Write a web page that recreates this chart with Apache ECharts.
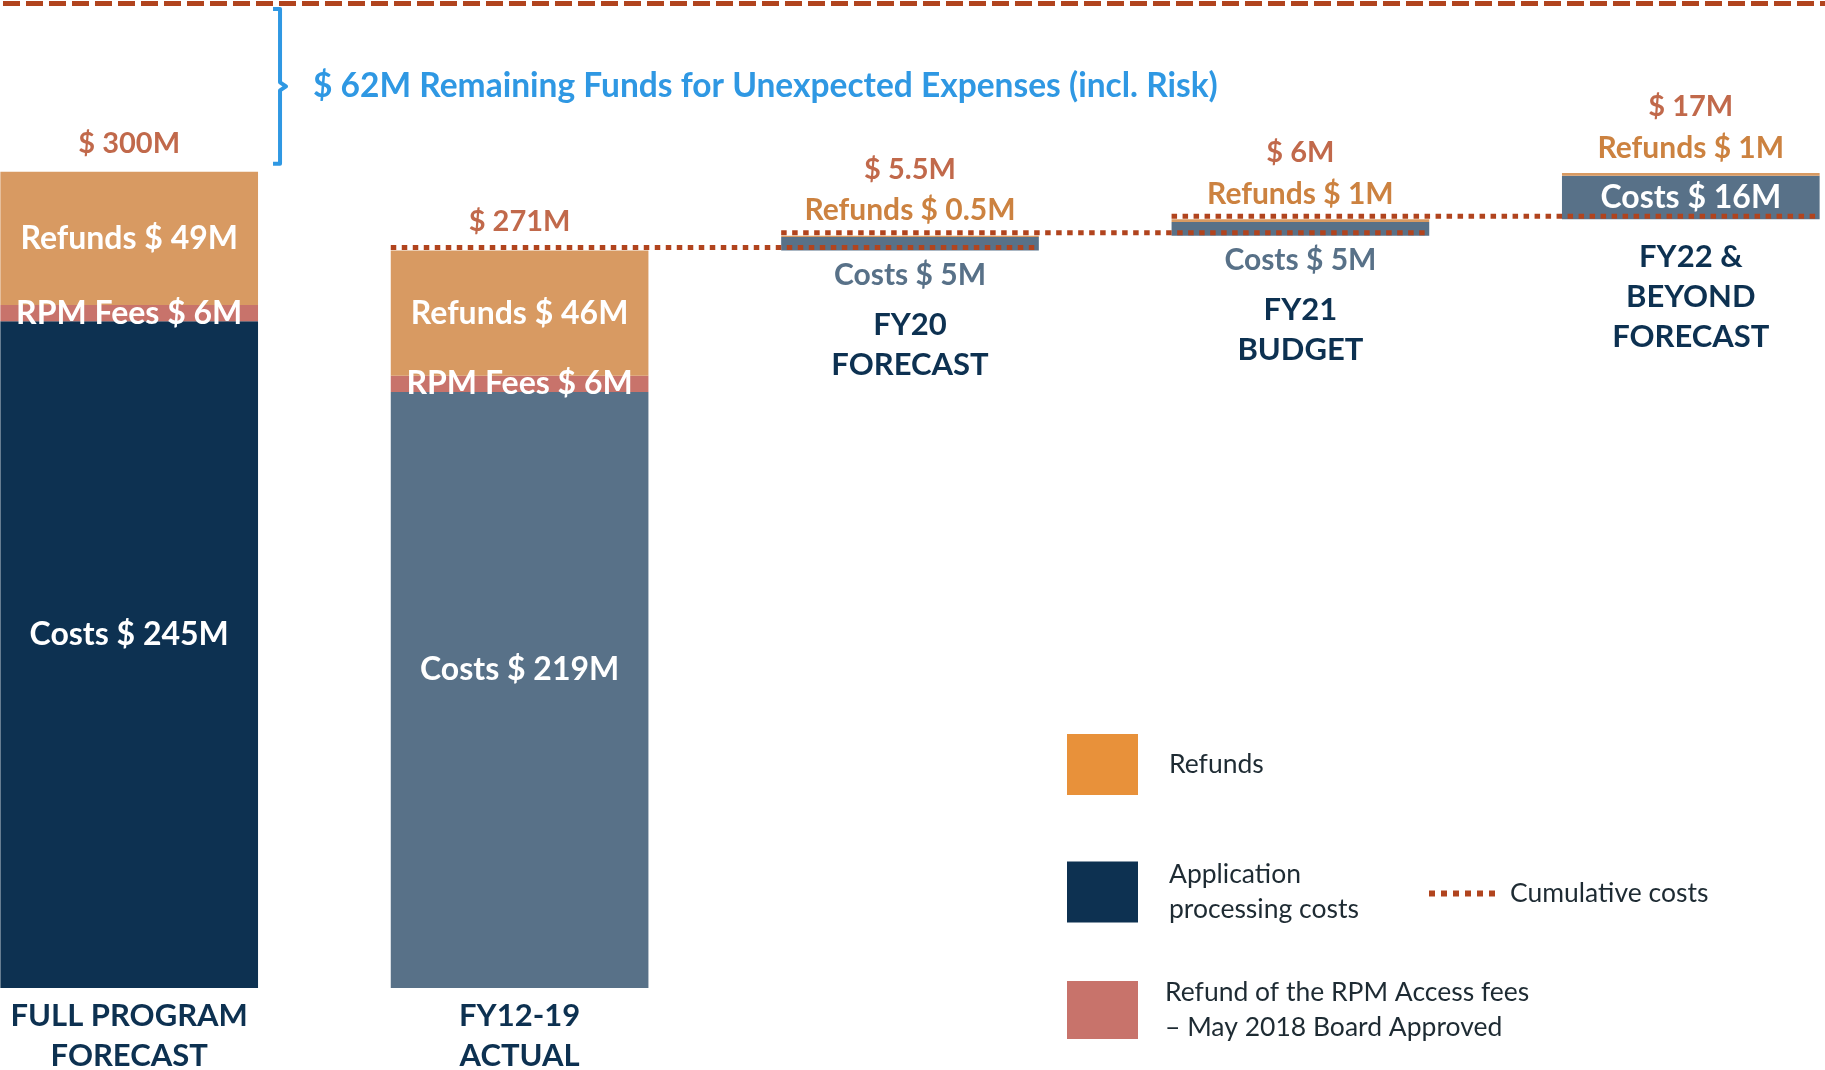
<!DOCTYPE html>
<html>
<head>
<meta charset="utf-8">
<script src="https://cdn.jsdelivr.net/npm/echarts@6/dist/echarts.min.js"></script>
<style>
  html, body { margin: 0; padding: 0; background: #ffffff; overflow: hidden; width: 1825px; height: 1070px; position: relative; }
  /* the outer bars touch the page edges, so the chart canvas is a little wider than the page */
  #chart { position: absolute; left: -66px; top: 0; width: 1952px; height: 1070px; }
</style>
</head>
<body>
<div id="chart"></div>
<script>
// ---------------- data ($ millions) ----------------
const categories = ['FULL PROGRAM\nFORECAST', 'FY12-19\nACTUAL', 'FY20\nFORECAST', 'FY21\nBUDGET', 'FY22 &\nBEYOND\nFORECAST'];
const costs   = [245, 219, 5, 5, 16];
const rpmFees = [6, 6, 0, 0, 0];
const refunds = [49, 46, 0.5, 1, 1];
const totals  = [300, 271, 5.5, 6, 17];
const remainingFunds = 62;

// ---------------- styling ----------------
const RUST = '#B1441E', BLUE = '#2F98E3', NAVY = '#0D3151', SLATE = '#587188';
const REFUND = '#D89A62', REFUND_KEY = '#E8913A', RPM = '#C8736B', INK = '#1E2B33';
const FONT = 'Lato, "Noto Sans", sans-serif';
const BAR_FRAC = 0.66;
const SHIFT = 66; // chart canvas starts 66px left of the page

// waterfall: full-program forecast stands alone, the rest accumulate
const base = [];
let running = 0;
categories.forEach((c, i) => {
  const sum = costs[i] + rpmFees[i] + refunds[i];
  if (i === 0) { base.push(0); return; }
  base.push(running);
  running += sum;
});
const tops = categories.map((c, i) => base[i] + costs[i] + rpmFees[i] + refunds[i]);
const cumulative = [];
for (let i = 1; i < categories.length - 1; i++) cumulative.push([i, base[i + 1]]);

const insideLbl = { show: true, position: 'inside', color: '#ffffff', fontSize: 32, fontWeight: 'bold', fontFamily: FONT };
const FIT = 14; // $M needed for a label to sit inside its bar

const baseData = base.map((v, i) => ({
  value: v,
  label: i < 2 ? { show: false } : {
    show: true, position: 'insideTop', distance: costs[i] >= FIT ? 18 : 54,
    formatter: categories[i], color: NAVY, fontSize: 31, fontWeight: 'bold',
    fontFamily: FONT, lineHeight: 40, align: 'center'
  }
}));
const costsData = costs.map((v, i) => ({
  value: v,
  itemStyle: { color: i === 0 ? NAVY : SLATE },
  label: v >= FIT
    ? Object.assign({}, insideLbl, { formatter: 'Costs $ ' + v + 'M', offset: v > 100 ? [0, -20] : [0, 0] })
    : { show: true, position: 'bottom', distance: 10, color: SLATE, fontSize: 30, fontWeight: 'bold', fontFamily: FONT, formatter: 'Costs $ ' + v + 'M' }
}));
const rpmData = rpmFees.map((v, i) => ({
  value: v,
  label: v > 0 ? Object.assign({}, insideLbl, { formatter: 'RPM Fees $ ' + v + 'M' }) : { show: false }
}));
const refundsData = refunds.map((v, i) => ({
  value: v,
  itemStyle: { color: REFUND },
  label: v >= FIT
    ? Object.assign({}, insideLbl, { formatter: 'Refunds $ ' + v + 'M' })
    : { show: true, position: 'top', distance: 10, color: '#CC8240', fontSize: 30, fontWeight: 'bold', fontFamily: FONT, formatter: 'Refunds $ ' + v + 'M' }
}));
const totalsData = totals.map((v, i) => ({
  value: [i, tops[i]],
  label: { distance: refunds[i] >= FIT ? 14 : 52, formatter: '$ ' + v + 'M' }
}));

const chart = echarts.init(document.getElementById('chart'), null, { renderer: 'canvas' });

const legendBase = {
  orient: 'vertical', selectedMode: false, itemWidth: 71, itemHeight: 61, padding: 0, icon: 'rect',
  textStyle: { fontFamily: FONT, fontSize: 26.5, color: INK, lineHeight: 35, padding: [0, 0, 0, 26] }
};

chart.setOption({
  animation: false,
  backgroundColor: '#ffffff',
  grid: { left: 0, right: 0, top: 3, bottom: 82, containLabel: false, outerBoundsMode: 'none' },
  xAxis: {
    type: 'category', data: categories,
    axisLine: { show: false }, axisTick: { show: false }, splitLine: { show: false },
    axisLabel: {
      interval: 0, margin: 8, color: NAVY, fontSize: 31, fontWeight: 'bold',
      fontFamily: FONT, lineHeight: 40,
      formatter: (val, idx) => (idx < 2 ? val : '')
    }
  },
  yAxis: { type: 'value', min: 0, max: totals[0] + remainingFunds, show: false, splitLine: { show: false } },
  legend: [
    Object.assign({}, legendBase, { left: 1067 + SHIFT, top: 734, data: [{ name: 'Refunds', itemStyle: { color: REFUND_KEY } }] }),
    Object.assign({}, legendBase, { left: 1067 + SHIFT, top: 850, data: [{ name: 'Application processing costs', itemStyle: { color: NAVY } }],
      formatter: () => 'Application\nprocessing costs',
      textStyle: Object.assign({}, legendBase.textStyle, { padding: [14, 0, 0, 26] }) }),
    Object.assign({}, legendBase, { left: 1067 + SHIFT, top: 969, itemHeight: 58, data: [{ name: 'Refund of the RPM Access fees – May 2018 Board Approved', itemStyle: { color: RPM } }],
      formatter: () => 'Refund of the RPM Access fees\n– May 2018 Board Approved',
      textStyle: Object.assign({}, legendBase.textStyle, { padding: [12, 0, 0, 22] }) }),
    Object.assign({}, legendBase, { left: 1429 + SHIFT, top: 876, itemWidth: 70, itemHeight: 6,
      textStyle: Object.assign({}, legendBase.textStyle, { padding: [0, 0, 0, 8] }),
      data: [{ name: 'Cumulative costs', icon: 'path://M0 0h6v6H0z M12 0h6v6h-6z M24 0h6v6h-6z M36 0h6v6h-6z M48 0h6v6h-6z M60 0h6v6h-6z', itemStyle: { color: RUST } }] })
  ],
  series: [
    {
      name: 'base', type: 'bar', stack: 'w', barWidth: (BAR_FRAC * 100) + '%', silent: true,
      itemStyle: { color: 'rgba(0,0,0,0)' }, data: baseData,
      markLine: {
        silent: true, symbol: ['none', 'none'], label: { show: false },
        lineStyle: { color: RUST, width: 5, type: [17, 6] },
        data: [{ yAxis: totals[0] + remainingFunds }]
      }
    },
    { name: 'Application processing costs', type: 'bar', stack: 'w', itemStyle: { color: NAVY }, data: costsData },
    { name: 'Refund of the RPM Access fees – May 2018 Board Approved', type: 'bar', stack: 'w', itemStyle: { color: RPM }, data: rpmData },
    { name: 'Refunds', type: 'bar', stack: 'w', itemStyle: { color: REFUND_KEY }, data: refundsData },
    {
      name: 'totals', type: 'scatter', symbolSize: 0, silent: true, data: totalsData,
      label: { show: true, position: 'top', color: RUST, fontSize: 29, fontWeight: 'bold', fontFamily: FONT }
    },
    {
      name: 'Cumulative costs', type: 'custom', itemStyle: { color: RUST }, silent: true, z: 5,
      encode: { x: 0, y: 1 }, data: cumulative,
      renderItem: (params, api) => {
        const i = api.value(0), lvl = api.value(1);
        const a = api.coord([i, lvl]), b = api.coord([i + 1, lvl]);
        const half = api.size([1, 0])[0] * BAR_FRAC / 2;
        const y = a[1] - 3; // dotted line sits just above the level it marks
        return {
          type: 'line',
          shape: { x1: a[0] - half, y1: y, x2: b[0] + half, y2: y },
          style: { stroke: RUST, lineWidth: 5, lineDash: [5.5, 5.5] }
        };
      }
    },
    {
      name: 'remaining', type: 'custom', silent: true, z: 5,
      encode: { x: 0, y: [1, 2] },
      data: [[0, totals[0], totals[0] + remainingFunds]],
      renderItem: (params, api) => {
        const lo = api.coord([api.value(0), api.value(1)]);
        const hi = api.coord([api.value(0), api.value(2)]);
        const half = api.size([1, 0])[0] * BAR_FRAC / 2;
        const bx = lo[0] + half + 22;
        const top = hi[1] + 6, bot = lo[1] - 8, mid = (top + bot) / 2;
        return {
          type: 'group',
          children: [
            {
              type: 'polyline',
              shape: { points: [[bx - 7, top], [bx, top], [bx, mid - 4], [bx + 6, mid], [bx, mid + 4], [bx, bot], [bx - 7, bot]] },
              style: { stroke: BLUE, lineWidth: 4, fill: null, lineJoin: 'round' }
            },
            {
              type: 'text',
              style: {
                x: bx + 33, y: mid, text: '$ ' + remainingFunds + 'M Remaining Funds for Unexpected Expenses (incl. Risk)',
                fill: BLUE, font: 'bold 33.5px ' + FONT, verticalAlign: 'middle', align: 'left'
              }
            }
          ]
        };
      }
    }
  ]
});
</script>
</body>
</html>
